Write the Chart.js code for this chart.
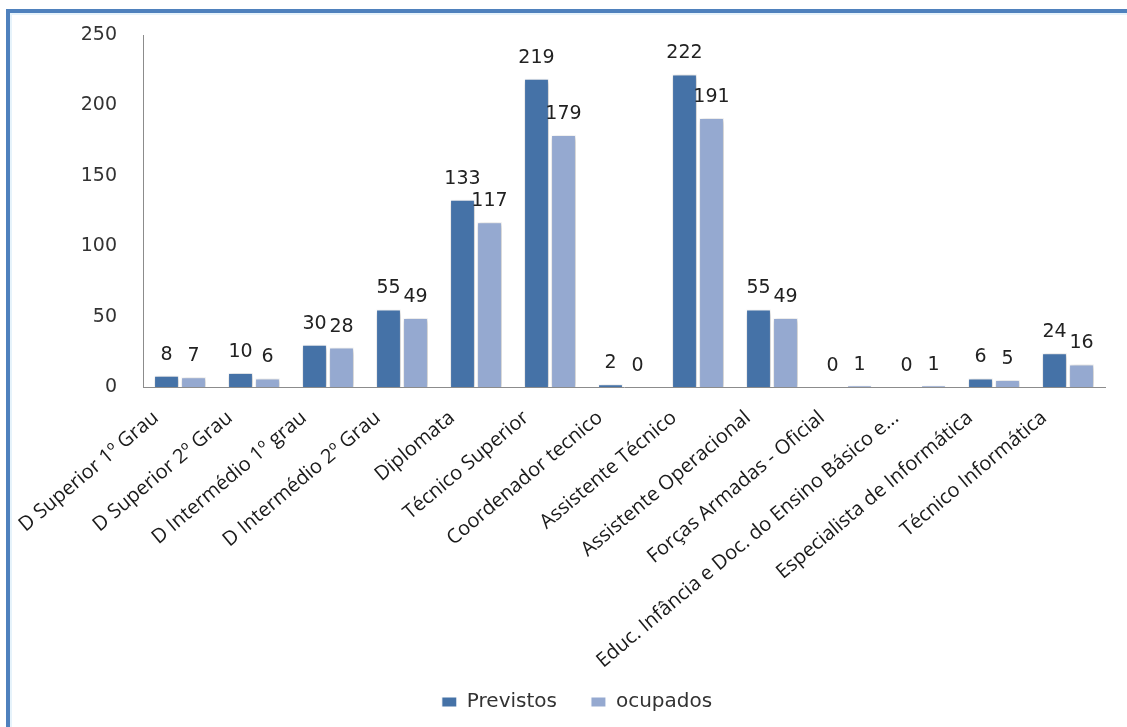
<!DOCTYPE html>
<html>
<head>
<meta charset="utf-8">
<title>Previstos / ocupados</title>
<script src="https://cdn.jsdelivr.net/npm/chart.js@4.4.0/dist/chart.umd.min.js"></script>
<style>
  html, body { margin: 0; padding: 0; background: #fff; overflow: hidden; }
  #frame {
    position: absolute;
    left: 6px;
    top: 9px;
    width: 1200px;
    height: 800px;
    border-left: 4px solid #4f81bd;
    border-top: 4px solid #4f81bd;
    box-shadow: inset 2px 2px 0 #e6f3fb;
  }
  #mapa { position: absolute; left: 0; top: 0; }
</style>
</head>
<body>
<div id="frame">
  <canvas id="mapa" width="1117" height="709"></canvas>
</div>
<script>
var carreiras = [
  "D Superior 1º Grau",
  "D Superior 2º Grau",
  "D Intermédio 1º grau",
  "D Intermédio 2º Grau",
  "Diplomata",
  "Técnico Superior",
  "Coordenador tecnico",
  "Assistente Técnico",
  "Assistente Operacional",
  "Forças Armadas - Oficial",
  "Educ. Infância e Doc. do Ensino Básico e...",
  "Especialista de Informática",
  "Técnico Informática"
];
var previstos = [8, 10, 30, 55, 133, 219, 2, 222, 55, 0, 0, 6, 24];
var ocupados = [7, 6, 28, 49, 117, 179, 0, 191, 49, 1, 1, 5, 16];
var yTicks = [0, 50, 100, 150, 200, 250];

var numFont = "'DejaVu Sans', sans-serif";
var textFont = "'Open Sans', sans-serif";

// soft shadow under the bars + value above each bar
var barLabels = {
  id: "barLabels",
  afterLayout: function (chart) {
    // the long rotated category names run down past the axis box
    chart.scales.x.bottom = chart.height;
  },
  beforeDatasetsDraw: function (chart) {
    var ctx = chart.ctx;
    ctx.save();
    ctx.shadowColor = "rgba(0,0,0,0.28)";
    ctx.shadowBlur = 5;
    ctx.shadowOffsetX = 1;
    ctx.shadowOffsetY = 1;
  },
  afterDatasetsDraw: function (chart) {
    var ctx = chart.ctx;
    ctx.restore();
    ctx.save();
    ctx.font = "19px " + numFont;
    ctx.fillStyle = "#222";
    ctx.textAlign = "center";
    ctx.textBaseline = "middle";
    chart.data.datasets.forEach(function (ds, i) {
      chart.getDatasetMeta(i).data.forEach(function (bar, j) {
        ctx.fillText(String(ds.data[j]), bar.x, bar.y - 21);
      });
    });
    ctx.restore();
  }
};

var ctx = document.getElementById("mapa").getContext("2d");
var grafico = new Chart(ctx, {
  type: "bar",
  data: {
    labels: carreiras,
    datasets: [
      {
        label: "Previstos",
        data: previstos,
        backgroundColor: "#4572a7",
        borderColor: "#ffffff",
        borderWidth: 1,
        barPercentage: 0.92,
        categoryPercentage: 0.73
      },
      {
        label: "ocupados",
        data: ocupados,
        backgroundColor: "#95a9d0",
        borderColor: "#ffffff",
        borderWidth: 1,
        barPercentage: 0.92,
        categoryPercentage: 0.73
      }
    ]
  },
  options: {
    responsive: false,
    animation: false,
    layout: {
      padding: { top: 22, right: 22, left: 39, bottom: 0 }
    },
    plugins: {
      tooltip: { enabled: false },
      legend: {
        position: "bottom",
        labels: {
          boxWidth: 15,
          boxHeight: 10,
          padding: 34,
          color: "#333",
          font: { family: numFont, size: 20 }
        }
      }
    },
    scales: {
      x: {
        grid: { display: false },
        border: { display: true, color: "#8c8c8c", width: 1 },
        ticks: {
          autoSkip: false,
          minRotation: 40,
          maxRotation: 40,
          padding: 11,
          labelOffset: -24,
          color: "#1a1a1a",
          font: { family: textFont, size: 20 }
        },
        afterFit: function (scale) {
          scale.height = 271;
        }
      },
      y: {
        min: 0,
        max: 250,
        grid: { display: false, tickLength: 26 },
        border: { display: true, color: "#8c8c8c", width: 1 },
        afterBuildTicks: function (scale) {
          scale.ticks = yTicks.map(function (v) {
            return { value: v };
          });
        },
        ticks: {
          padding: 0,
          color: "#333",
          font: { family: numFont, size: 19 }
        },
        afterFit: function (scale) {
          scale.width = 94;
        }
      }
    }
  },
  plugins: [barLabels]
});
</script>
</body>
</html>
